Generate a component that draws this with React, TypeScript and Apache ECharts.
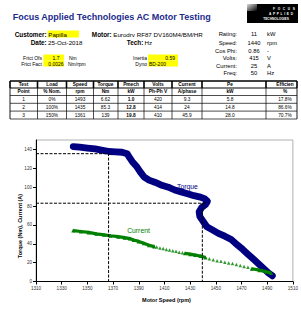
import React, { useEffect, useRef } from "react";
import * as echarts from "echarts";

const FONT = '"Liberation Sans", Arial, Helvetica, sans-serif';

// ---- data ----
const X_MIN = 1310;
const X_MAX = 1510;
const X_STEP = 20;
const Y_MAX = 150;
const Y_STEP = 20;

const torquePoints: [number, number][] = [
  [1339, 143], [1344, 142.5], [1350, 141.5], [1356, 140.5], [1362, 139], [1367, 137.8],
  [1372, 137.5], [1377, 137], [1381, 135.5], [1383, 131], [1385, 127], [1388, 122.5],
  [1391, 116.5], [1394, 111], [1398, 107.5], [1403, 105], [1408, 102], [1413, 100],
  [1418, 97], [1423, 95], [1428, 93], [1433, 91], [1438, 89.5], [1441.5, 87.5],
  [1443.5, 85], [1442, 81.5], [1439, 78.5], [1437, 74], [1437.5, 69],
  [1440, 64], [1443, 58], [1447, 55], [1452, 51], [1457, 48], [1462, 44.5],
  [1467, 38.5], [1471, 34], [1475, 29], [1479, 24], [1483, 19], [1487, 14],
  [1491, 9], [1494, 6],
];

const currentSegA: [number, number][] = [
  [1339, 54], [1345, 53], [1351, 52], [1357, 50.5], [1363, 49.5], [1368, 48.5],
  [1374, 47.5], [1379, 46.5], [1383, 45.5], [1386, 44], [1390, 42.5], [1394, 40.5],
  [1398, 38.5], [1402, 37],
];
const currentSegB: [number, number][] = [
  [1426, 30], [1430, 29], [1434, 28], [1438, 27], [1442, 25.5],
];
const currentSegC: [number, number][] = [
  [1478, 13.5], [1484, 12], [1489, 10.5], [1493, 9],
];
const currentSparse: [number, number][] = [
  [1404, 36.5], [1406.5, 35.5], [1409, 35], [1411.5, 34], [1414, 33.5], [1416.5, 32.5],
  [1419, 32], [1421.5, 31], [1424, 30.5], [1445, 24], [1448, 23], [1451, 22],
  [1454, 21.5], [1457, 20.5], [1460, 19.5], [1463, 19], [1466, 18], [1469, 17],
  [1472, 16], [1475, 15],
];

const guideA: [number, number][] = [[1310, 135.5], [1366.5, 135.5], [1366.5, 0]];
const guideB: [number, number][] = [[1310, 83], [1442.5, 83]];
const guideC: [number, number][] = [[1439.5, 83], [1439.5, 0]];

const tableHeader1 = ["Test", "Load", "Speed", "Torque", "Pmech", "Volts", "Current", "Pe", "Efficien"];
const tableHeader2 = ["Point", "% Nom.", "rpm", "Nm", "kW", "Ph-Ph V", "A/phase", "kW", "%"];
const tableRows = [
  ["1", "0%", "1493", "6.62", "1.0", "420", "9.3", "5.8", "17.8%"],
  ["2", "100%", "1435", "85.3", "12.8", "414", "24", "14.8", "86.6%"],
  ["3", "150%", "1361", "139", "19.8", "410", "45.9", "28.0", "70.7%"],
];

const ratingLabels = ["Rating:", "Speed:", "Cos Phi:", "Volts:", "Current:", "Freq:"];
const ratingValues = ["11", "1440", "0.86", "415", "25", "50"];
const ratingUnits = ["kW", "rpm", "-", "V", "A", "Hz"];

// ---- layout ----
const colCenters = [23.5, 52, 80, 105.5, 131, 158, 187, 230, 285];
const colBorders = [10, 37.5, 66.5, 93.5, 118, 144, 172, 202, 266, 297];
const rowBorders = [81, 88, 95.5, 103.3, 111.1, 119];
const ratingRowsY = [34, 42.5, 50.5, 58, 65.5, 73];
const frictRowsY = [57.5, 63.5];

function txt(x: number, y: number, text: string, size: number, opts: any = {}) {
  return {
    type: "text",
    x,
    y,
    silent: true,
    rotation: opts.rotation || 0,
    style: {
      text,
      fontSize: size,
      fontFamily: FONT,
      fontWeight: opts.bold ? "bold" : "normal",
      fill: opts.color || "#000",
      align: opts.align || "left",
      verticalAlign: "middle",
    },
  };
}
function ln(x1: number, y1: number, x2: number, y2: number, w: number) {
  return { type: "line", silent: true, shape: { x1, y1, x2, y2 }, style: { stroke: "#000", lineWidth: w } };
}
function box(x: number, y: number, w: number, h: number, fill: any) {
  return { type: "rect", silent: true, shape: { x, y, width: w, height: h }, style: { fill } };
}

function buildGraphic() {
  const g: any[] = [];
  // title
  g.push(txt(12.7, 16.5, "Focus Applied Technologies AC Motor Testing", 9, { bold: true, color: "#1c2a8c" }));
  // logo
  g.push(box(247, 4, 51, 19, "#000"));
  g.push(box(247, 4, 10, 7, new echarts.graphic.LinearGradient(0, 0, 1, 1, [{ offset: 0, color: "#dddddd" }, { offset: 1, color: "#000000" }])));
  g.push(txt(284, 9, "F   O   C   U   S", 3.2, { color: "#fff", align: "center", bold: true }));
  g.push(txt(281, 14, "A  P  P  L  I  E  D", 3.2, { color: "#fff", align: "center", bold: true }));
  g.push(txt(276, 19, "TECHNOLOGIES", 3.2, { color: "#fff", align: "center", bold: true }));

  // customer block
  g.push(box(47.5, 30.5, 31.5, 7, "#ffff00"));
  g.push(txt(46.7, 34, "Customer:", 6.4, { bold: true, align: "right" }));
  g.push(txt(48.3, 34, "Papilla", 6.2));
  g.push(txt(111.7, 34, "Motor:", 6.4, { bold: true, align: "right" }));
  g.push(txt(113.3, 34, "Eurodrv RF87 DV160M4/BM/HR", 6.2));
  g.push(txt(46.7, 42.5, "Date:", 6.4, { bold: true, align: "right" }));
  g.push(txt(48, 42.5, "25-Oct-2018", 6.2));
  g.push(txt(143.3, 42.5, "Tech:", 6.4, { bold: true, align: "right" }));
  g.push(txt(144.5, 42.5, "Hz", 6.2));

  // ratings
  ratingLabels.forEach((l, i) => {
    const y = ratingRowsY[i];
    g.push(txt(237, y, l, 5.8, { align: "right" }));
    g.push(txt(254, y, ratingValues[i], 5.8, { align: "center" }));
    g.push(txt(267, y, ratingUnits[i], 5.8));
  });

  // friction / dyno
  const [fa, fb] = frictRowsY;
  g.push(box(43.3, fa - 3, 20.7, 6, "#ffff00"));
  g.push(box(43.3, fb - 3, 20.7, 6, "#ffff00"));
  g.push(box(148, fa - 3, 30, 6, "#ffff00"));
  g.push(box(148, fb - 3, 30, 6, "#ffff00"));
  g.push(txt(42, fa, "Frict Ofs", 5, { align: "right" }));
  g.push(txt(56, fa, "1.7", 5, { align: "center" }));
  g.push(txt(69, fa, "Nm", 5));
  g.push(txt(42, fb, "Frict Fact", 5, { align: "right" }));
  g.push(txt(56, fb, "0.0026", 5, { align: "center" }));
  g.push(txt(68, fb, "Nm/rpm", 5));
  g.push(txt(147, fa, "Inertia", 5, { align: "right" }));
  g.push(txt(175, fa, "0.59", 5, { align: "right" }));
  g.push(txt(147, fb, "Dyno", 5, { align: "right" }));
  g.push(txt(149, fb, "BD-200", 5));

  // table
  const top = rowBorders[0];
  const bottom = rowBorders[rowBorders.length - 1];
  g.push(ln(colBorders[0], top, colBorders[colBorders.length - 1], top, 1.6));
  for (let i = 1; i < rowBorders.length; i++) {
    g.push(ln(colBorders[0], rowBorders[i], colBorders[colBorders.length - 1], rowBorders[i], i === 1 ? 1 : 0.7));
  }
  colBorders.forEach((x, i) => {
    g.push(ln(x, top, x, rowBorders[1], 1.6));
    g.push(ln(x, rowBorders[1], x, bottom, i === 0 || i === colBorders.length - 1 ? 0.9 : 0.7));
  });
  const rc = (i: number) => (rowBorders[i] + rowBorders[i + 1]) / 2;
  tableHeader1.forEach((t, j) => g.push(txt(colCenters[j], rc(0), t, 4.8, { bold: true, align: "center" })));
  tableHeader2.forEach((t, j) => g.push(txt(colCenters[j], rc(1), t, 4.8, { bold: true, align: "center" })));
  tableRows.forEach((r, i) =>
    r.forEach((t, j) => g.push(txt(colCenters[j], rc(i + 2), t, 4.8, { align: "center", bold: j === 4 })))
  );

  // axis names & series labels
  g.push(txt(166.5, 300, "Motor Speed (rpm)", 5.5, { bold: true, align: "center" }));
  g.push(txt(20, 226, "Torque (Nm), Current (A)", 5.5, { bold: true, align: "center", rotation: Math.PI / 2 }));
  g.push(txt(187.5, 186.5, "Torque", 6.8, { color: "#000080", align: "center" }));
  g.push(txt(138.5, 230.5, "Current", 6.8, { color: "#008000", align: "center" }));
  return g;
}

const off = (p: [number, number]) => [p[0] - X_MIN, p[1]];

export default function App() {
  const ref = useRef<HTMLDivElement>(null);
  useEffect(() => {
    if (!ref.current) return;
    const chart = echarts.init(ref.current, undefined, { renderer: "svg" });
    const greenLine = (data: [number, number][]) => ({
      type: "line",
      data: data.map(off),
      symbol: "triangle",
      symbolSize: 4,
      itemStyle: { color: "#008000" },
      lineStyle: { color: "#008000", width: 3.2 },
      z: 3,
    });
    const guide = (data: [number, number][]) => ({
      type: "line",
      data: data.map(off),
      symbol: "none",
      lineStyle: { color: "#000", width: 1, type: [3, 1.5] },
      z: 5,
    });
    chart.setOption({
      animation: false,
      backgroundColor: "#fff",
      textStyle: { fontFamily: FONT },
      grid: {
        left: 36,
        right: 5,
        top: 140,
        bottom: 29.5,
        show: true,
        borderColor: "#b0b0b0",
        borderWidth: 1,
      },
      xAxis: {
        type: "value",
        min: 0,
        max: X_MAX - X_MIN,
        interval: X_STEP,
        axisLine: { show: true, onZero: false, lineStyle: { color: "#000", width: 1 } },
        axisTick: { show: true, length: 3, lineStyle: { color: "#000" } },
        splitLine: { show: false },
        axisLabel: {
          fontSize: 4.6,
          color: "#333",
          margin: 4,
          fontFamily: FONT,
          formatter: (v: number) => String(v + X_MIN),
        },
      },
      yAxis: {
        type: "value",
        min: 0,
        max: Y_MAX,
        interval: Y_STEP,
        axisLine: { show: true, lineStyle: { color: "#000", width: 1 } },
        axisTick: { show: true, length: 3, lineStyle: { color: "#000" } },
        splitLine: { show: false },
        axisLabel: { fontSize: 4.6, color: "#333", margin: 4, fontFamily: FONT, showMaxLabel: false },
      },
      series: [
        {
          type: "line",
          data: torquePoints.map(off),
          symbol: "none",
          lineStyle: { color: "#000080", width: 6.8, cap: "round", join: "round" },
          z: 2,
        },
        greenLine(currentSegA),
        greenLine(currentSegB),
        greenLine(currentSegC),
        {
          type: "scatter",
          data: currentSparse.map(off),
          symbol: "triangle",
          symbolSize: 3.5,
          itemStyle: { color: "#008000" },
          z: 3,
        },
        guide(guideA),
        guide(guideB),
        guide(guideC),
      ],
      graphic: buildGraphic(),
    });
    return () => chart.dispose();
  }, []);
  return (
    <div
      ref={ref}
      style={{ position: "absolute", left: 0, top: 0, width: 301, height: 311, background: "#fff" }}
    />
  );
}
